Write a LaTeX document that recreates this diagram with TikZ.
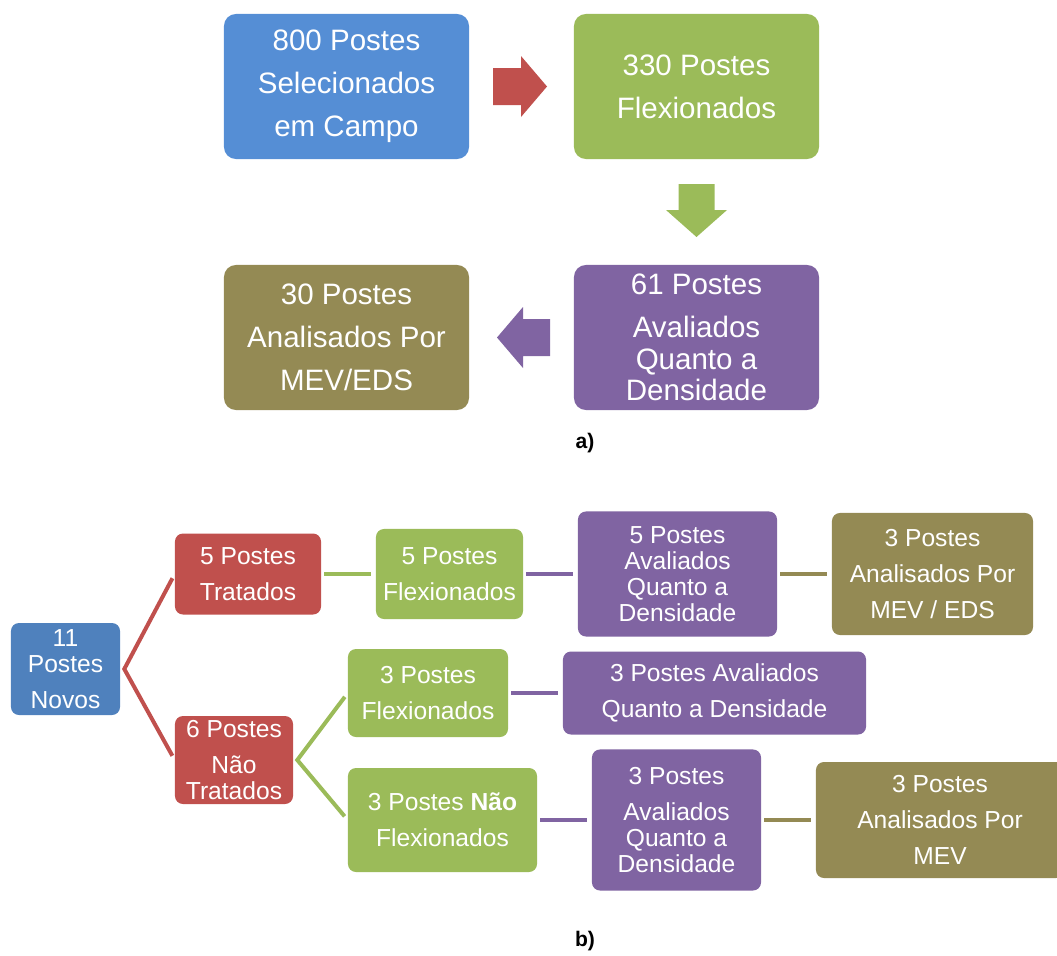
\documentclass[tikz,border=0pt]{standalone}
\usepackage{fontspec}
\setmainfont{Liberation Sans}
\usetikzlibrary{calc}
\definecolor{topblue}{HTML}{558ED5}
\definecolor{novoblue}{HTML}{4F81BD}
\definecolor{flexgreen}{HTML}{9BBB59}
\definecolor{tratred}{HTML}{C0504D}
\definecolor{avalpurple}{HTML}{8064A2}
\definecolor{mevolive}{HTML}{948A54}
\tikzstyle{bigbox} = [rectangle, rounded corners=0.3cm, inner sep=0pt, align=center, text=white, minimum width=6.125cm, minimum height=3.625cm, font=\fontsize{21pt}{30.5pt}\selectfont]
\tikzstyle{smallbox} = [rectangle, rounded corners=0.2cm, inner sep=0pt, align=center, text=white, font=\fontsize{17.5pt}{25.6pt}\selectfont]
\tikzstyle{link} = [line width=0.1cm, shorten <=0.07cm, shorten >=0.12cm]
\tikzstyle{fan} = [line width=0.1cm, shorten <=0.12cm, shorten >=0.12cm]
\tikzstyle{caption} = [font=\bfseries\fontsize{15pt}{18pt}\selectfont]

\begin{document}
\begin{tikzpicture}[x=0.025cm, y=-0.025cm]
		\useasboundingbox (0,0) rectangle (1057,955);
		
		%a) Campo
		\node[bigbox, fill=topblue] (a_sel) at (346.5,86.5) {800 Postes\\Selecionados\\em Campo};
		\node[bigbox, fill=flexgreen] (a_flex) at (696.5,86.5) {330 Postes\\Flexionados};
		\node[bigbox, fill=avalpurple] (a_dens) at (696.5,337.5) {61 Postes\\Avaliados\\[-8pt]Quanto a\\[-8pt]Densidade};
		\node[bigbox, fill=mevolive] (a_mev) at (346.5,337.5) {30 Postes\\Analisados Por\\MEV/EDS};
		\node[caption] (a_lbl) at (585,443) {a)};
		
		%block arrows
		\coordinate (ar1) at ($(a_sel.east)!0.5!(a_flex.west)$);
		\coordinate (ar2) at ($(a_flex.south)!0.5!(a_dens.north)$);
		\coordinate (ar3) at ($(a_mev.east)!0.5!(a_dens.west)$);
		\fill[tratred, shift={(ar1)}] (-28.5,-18.5) -- (-0.5,-18.5) -- (-0.5,-30.5) -- (25.5,0) -- (-0.5,30.5) -- (-0.5,18.5) -- (-28.5,18.5) -- cycle;
		\fill[flexgreen, shift={(ar2)}] (-18,-28) -- (18,-28) -- (18,-2) -- (30.5,-2) -- (0,25) -- (-30.5,-2) -- (-18,-2) -- cycle;
		\fill[avalpurple, shift={(ar3)}] (28.5,-18.5) -- (1.5,-18.5) -- (1.5,-30.5) -- (-24.5,0) -- (1.5,30.5) -- (1.5,18.5) -- (28.5,18.5) -- cycle;
		
		%b) Novos
		\node[smallbox, fill=novoblue, minimum width=2.725cm, minimum height=2.3cm] (b_nov) at (65.5,669) {11\\[-7pt]Postes\\Novos};
		\node[smallbox, fill=tratred, minimum width=3.65cm, minimum height=2.025cm] (b_trat) at (248,574) {5 Postes\\Tratados};
		\node[smallbox, fill=tratred, minimum width=2.95cm, minimum height=2.2cm] (b_ntrat) at (234,760) {6 Postes\\Não\\[-7pt]Tratados};
		
		%tratados
		\node[smallbox, fill=flexgreen, minimum width=3.675cm, minimum height=2.25cm] (b_flex1) at (449.5,574) {5 Postes\\Flexionados};
		\node[smallbox, fill=avalpurple, minimum width=4.975cm, minimum height=3.125cm] (b_dens1) at (677.5,574) {5 Postes\\[-7pt]Avaliados\\[-7pt]Quanto a\\[-7pt]Densidade};
		\node[smallbox, fill=mevolive, minimum width=5.025cm, minimum height=3.05cm] (b_mev1) at (932.5,574) {3 Postes\\Analisados Por\\MEV / EDS};
		
		%nao tratados
		\node[smallbox, fill=flexgreen, minimum width=4cm, minimum height=2.2cm] (b_flex2) at (428,693) {3 Postes\\Flexionados};
		\node[smallbox, fill=avalpurple, minimum width=7.575cm, minimum height=2.075cm] (b_dens2) at (714.5,693) {3 Postes Avaliados\\Quanto a Densidade};
		\node[smallbox, fill=flexgreen, minimum width=4.725cm, minimum height=2.6cm] (b_nflex) at (442.5,820) {3 Postes \textbf{Não}\\Flexionados};
		\node[smallbox, fill=avalpurple, minimum width=4.225cm, minimum height=3.525cm] (b_dens3) at (676.5,820) {3 Postes\\Avaliados\\[-7pt]Quanto a\\[-7pt]Densidade};
		\node[smallbox, fill=mevolive, minimum width=6.2cm, minimum height=2.9cm] (b_mev2) at (940,820) {3 Postes\\Analisados Por\\MEV};
		\node[caption] (b_lbl) at (585,941) {b)};
		
		%connections
		\draw[fan, tratred] (b_trat.west) -- ($(b_nov.east)+(4,0)$) -- (b_ntrat.west);
		\draw[fan, flexgreen] (b_flex2.west) -- ($(b_ntrat.east)+(4,0)$) -- (b_nflex.west);
		\draw[link, flexgreen] (b_trat.east) -- (b_flex1.west);
		\draw[link, avalpurple] (b_flex1.east) -- (b_dens1.west);
		\draw[link, avalpurple] (b_flex2.east) -- (b_dens2.west);
		\draw[link, avalpurple] (b_nflex.east) -- (b_dens3.west);
		\draw[link, mevolive] (b_dens1.east) -- (b_mev1.west);
		\draw[link, mevolive] (b_dens3.east) -- (b_mev2.west);
		
	\end{tikzpicture}
\end{document}
